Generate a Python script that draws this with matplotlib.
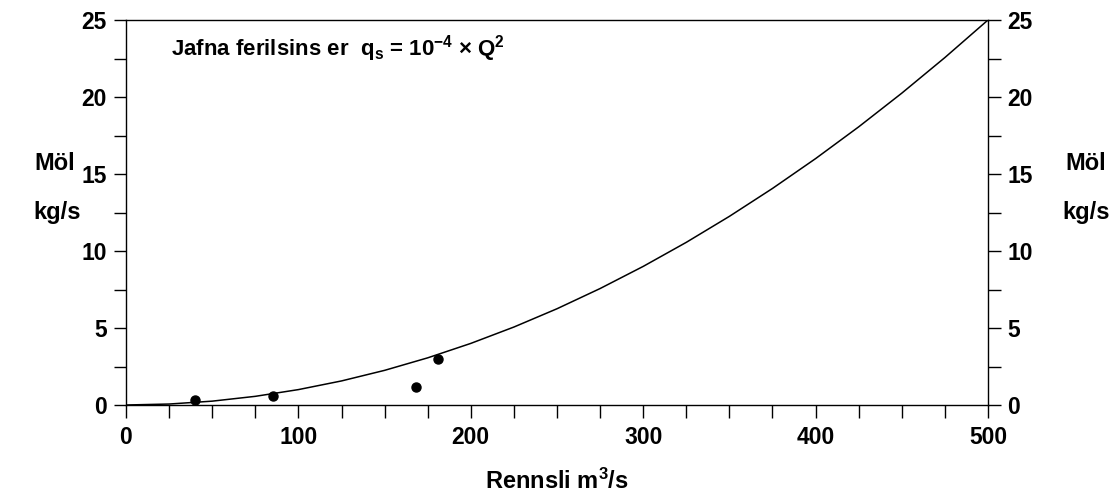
import matplotlib
matplotlib.use('Agg')
import matplotlib.pyplot as plt
from matplotlib.ticker import MultipleLocator

plt.rcParams['font.family'] = ['Liberation Sans', 'DejaVu Sans']
plt.rcParams['font.weight'] = 'bold'
plt.rcParams['mathtext.fontset'] = 'custom'
plt.rcParams['mathtext.rm'] = 'Liberation Sans:bold'
plt.rcParams['mathtext.it'] = 'Liberation Sans:bold'
plt.rcParams['mathtext.bf'] = 'Liberation Sans:bold'
plt.rcParams['mathtext.default'] = 'bf'

# measured points (Rennsli, Möl)
rennsli = [40, 85, 168, 181]
mol = [0.3, 0.6, 1.2, 3.0]

# fitted curve q_s = 1e-4 * Q^2
curve_q = [0, 25, 50, 75, 100, 125, 150, 175, 200, 225, 250,
           275, 300, 325, 350, 375, 400, 425, 450, 475, 500]
curve_qs = [0, 0.0625, 0.25, 0.5625, 1.0, 1.5625, 2.25, 3.0625, 4.0, 5.0625, 6.25,
            7.5625, 9.0, 10.5625, 12.25, 14.0625, 16.0, 18.0625, 20.25, 22.5625, 25.0]

fig = plt.figure(figsize=(11.15, 4.95), dpi=100)
ax = fig.add_axes([126/1115, 1-405/495, (988-126)/1115, (405-20)/495])

ax.plot(curve_q, curve_qs, color='black', lw=1.1)
ax.plot(rennsli, mol, 'o', color='black', ms=6.5)

ax.set_xlim(0, 500)
ax.set_ylim(0, 25)
ax.xaxis.set_major_locator(MultipleLocator(100))
ax.xaxis.set_minor_locator(MultipleLocator(25))
ax.yaxis.set_major_locator(MultipleLocator(5))
ax.yaxis.set_minor_locator(MultipleLocator(2.5))
ax.tick_params(which='both', direction='out', length=9, width=1, labelsize=16.5,
               left=True, right=True, labelleft=True, labelright=True, top=False)
ax.tick_params(axis='x', pad=6)
ax.tick_params(axis='y', pad=5)
for s in ax.spines.values():
    s.set_linewidth(1)

ax.text(0.052, 0.925, 'Jafna ferilsins er  $q_s$ = 10$^{-4}$ × Q$^2$',
        transform=ax.transAxes, fontsize=16, fontweight='bold', va='center')

fig.text(55/1115, 1-163/495, 'Möl', fontsize=17, ha='center', va='center')
fig.text(57/1115, 1-213/495, 'kg/s', fontsize=17, ha='center', va='center')
fig.text(1086/1115, 1-163/495, 'Möl', fontsize=17, ha='center', va='center')
fig.text(1086/1115, 1-213/495, 'kg/s', fontsize=17, ha='center', va='center')
fig.text(557/1115, 1-481/495, 'Rennsli m$^3$/s', fontsize=17, ha='center', va='center')

fig.savefig('out.png', dpi=100)
